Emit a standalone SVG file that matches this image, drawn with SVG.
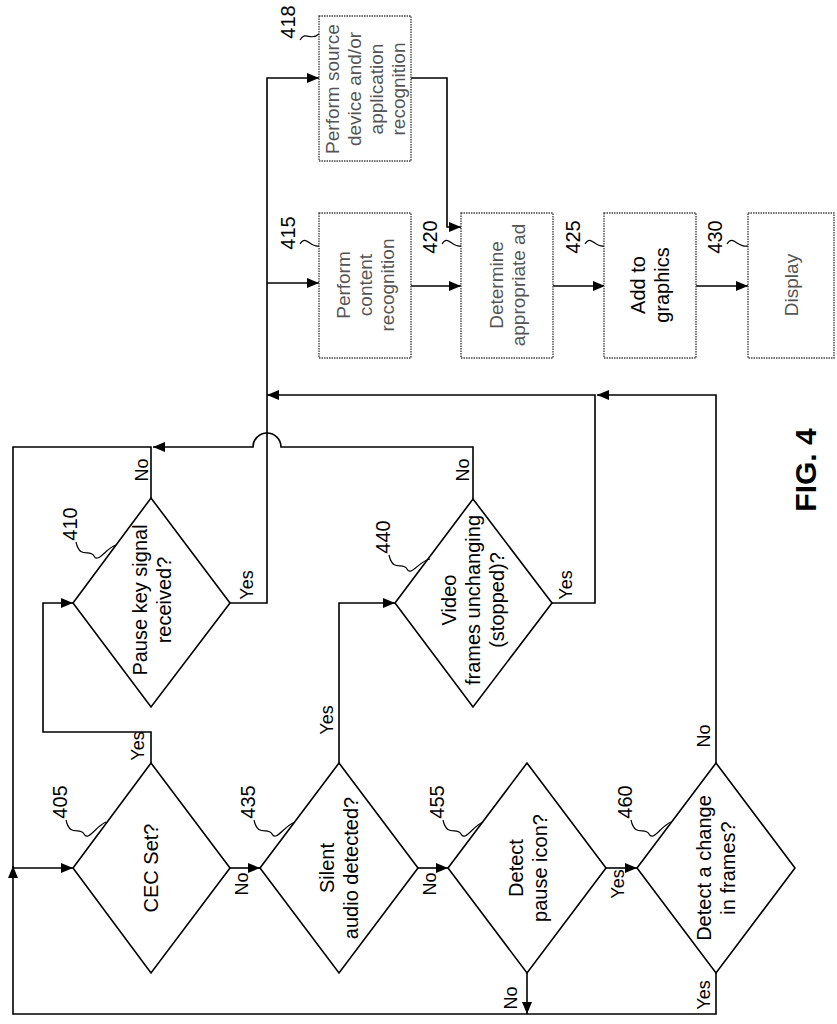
<svg xmlns="http://www.w3.org/2000/svg" width="837" height="1024" viewBox="0 0 837 1024">
<style>
text{font-family:"Liberation Sans",Arial,sans-serif;dominant-baseline:central;text-anchor:middle}
.t{font-size:20px;fill:#000}
.b{font-size:19px;fill:#555}
.bk{font-size:20px;fill:#000}
.n{font-size:20px}
.yn{font-size:18px}
.d{fill:#fff;stroke:#000;stroke-width:1.6}
.r{fill:#fff;stroke:#444;stroke-width:1.4;stroke-dasharray:1.5 1}
.c{fill:none;stroke:#000;stroke-width:1.6}
.l{fill:none;stroke:#000;stroke-width:1.2}
</style>
<defs>
<marker id="a" markerUnits="userSpaceOnUse" markerWidth="12" markerHeight="10" refX="12" refY="5" orient="auto"><path d="M0,0L12,5L0,10z" fill="#000"/></marker>
</defs>
<rect width="837" height="1024" fill="#fff"/>
<g id="connectors">
<path class="c" d="M473,499V447H281A14,14 0 0 0 253,447H153" marker-end="url(#a)"/>
<path class="c" d="M151,498V447H13V868H73" marker-end="url(#a)"/>
<path class="c" d="M716,973V1014H13V866" marker-end="url(#a)"/>
<path class="c" d="M527,973V1014" marker-end="url(#a)"/>
<path class="c" d="M151,763V732H43V603H73" marker-end="url(#a)"/>
<path class="c" d="M230,868H260" marker-end="url(#a)"/>
<path class="c" d="M418,868H448" marker-end="url(#a)"/>
<path class="c" d="M606,868H637" marker-end="url(#a)"/>
<path class="c" d="M339,763V603H395" marker-end="url(#a)"/>
<path class="c" d="M230,603H267V78H319" marker-end="url(#a)"/>
<path class="c" d="M267,283H319" marker-end="url(#a)"/>
<path class="c" d="M716,763V395H597" marker-end="url(#a)"/>
<path class="c" d="M552,603H595V395H267" marker-end="url(#a)"/>
<path class="c" d="M411,78H447V227H461" marker-end="url(#a)"/>
<path class="c" d="M411,286H461" marker-end="url(#a)"/>
<path class="c" d="M553,286H605" marker-end="url(#a)"/>
<path class="c" d="M696,286H748" marker-end="url(#a)"/>
<g class="yn">
<text transform="rotate(-90 138 746)" x="138" y="746">Yes</text>
<text transform="rotate(-90 242 884)" x="242" y="884">No</text>
<text transform="rotate(-90 142 470)" x="142" y="470">No</text>
<text transform="rotate(-90 247 585)" x="247" y="585">Yes</text>
<text transform="rotate(-90 327 720)" x="327" y="720">Yes</text>
<text transform="rotate(-90 430 884)" x="430" y="884">No</text>
<text transform="rotate(-90 463 470)" x="463" y="470">No</text>
<text transform="rotate(-90 566 585)" x="566" y="585">Yes</text>
<text transform="rotate(-90 618 884)" x="618" y="884">Yes</text>
<text transform="rotate(-90 511 998)" x="511" y="998">No</text>
<text transform="rotate(-90 704 736)" x="704" y="736">No</text>
<text transform="rotate(-90 704 995)" x="704" y="995">Yes</text>
</g>
</g>
<g id="n405">
<path class="d" d="M73,868L151,763L230,868L151,973z"/>
<text class="t" transform="rotate(-90 151 868)" x="151" y="868">CEC Set?</text>
<text class="n" transform="rotate(-90 60 802)" x="60" y="802">405</text>
<path class="l" d="M66,820C70,838 80,826 84,834S96,826 106,822"/>
</g>
<g id="n410">
<path class="d" d="M73,603L151,498L230,603L151,707z"/>
<text class="t" transform="rotate(-90 140 600)" x="140" y="600">Pause key signal</text>
<text class="t" transform="rotate(-90 164 600)" x="164" y="600">received?</text>
<text class="n" transform="rotate(-90 70 524)" x="70" y="524">410</text>
<path class="l" d="M76,542C80,560 90,548 94,556S106,548 116,545"/>
</g>
<g id="n435">
<path class="d" d="M260,868L339,763L418,868L339,973z"/>
<text class="t" transform="rotate(-90 327 868)" x="327" y="868">Silent</text>
<text class="t" transform="rotate(-90 351 868)" x="351" y="868">audio detected?</text>
<text class="n" transform="rotate(-90 248 802)" x="248" y="802">435</text>
<path class="l" d="M254,820C258,838 268,826 272,834S284,826 295,822"/>
</g>
<g id="n440">
<path class="d" d="M395,603L473,499L552,603L473,707z"/>
<text class="t" transform="rotate(-90 449 600)" x="449" y="600">Video</text>
<text class="t" transform="rotate(-90 473 600)" x="473" y="600">frames unchanging</text>
<text class="t" transform="rotate(-90 497 600)" x="497" y="600">(stopped)?</text>
<text class="n" transform="rotate(-90 383 537)" x="383" y="537">440</text>
<path class="l" d="M389,555C393,573 403,561 407,569S419,561 430,559"/>
</g>
<g id="n455">
<path class="d" d="M448,868L527,763L606,868L527,973z"/>
<text class="t" transform="rotate(-90 516 868)" x="516" y="868">Detect</text>
<text class="t" transform="rotate(-90 540 868)" x="540" y="868">pause icon?</text>
<text class="n" transform="rotate(-90 437 802)" x="437" y="802">455</text>
<path class="l" d="M443,820C447,838 457,826 461,834S473,826 483,822"/>
</g>
<g id="n460">
<path class="d" d="M637,868L716,763L795,868L716,973z"/>
<text class="t" transform="rotate(-90 704 868)" x="704" y="868">Detect a change</text>
<text class="t" transform="rotate(-90 728 868)" x="728" y="868">in frames?</text>
<text class="n" transform="rotate(-90 625 802)" x="625" y="802">460</text>
<path class="l" d="M631,820C635,838 645,826 649,834S661,826 671,822"/>
</g>
<g id="n418">
<rect class="r" x="319" y="16" width="92" height="145"/>
<text class="b" transform="rotate(-90 332 89)" x="332" y="89">Perform source</text>
<text class="b" transform="rotate(-90 354 89)" x="354" y="89">device and/or</text>
<text class="b" transform="rotate(-90 376 89)" x="376" y="89">application</text>
<text class="b" transform="rotate(-90 398 89)" x="398" y="89">recognition</text>
<text class="n" transform="rotate(-90 288 22)" x="288" y="22">418</text>
<path class="l" d="M300,40C306,30 310,42 319,34"/>
</g>
<g id="n415">
<rect class="r" x="319" y="213" width="92" height="145"/>
<text class="b" transform="rotate(-90 343 285)" x="343" y="285">Perform</text>
<text class="b" transform="rotate(-90 365 285)" x="365" y="285">content</text>
<text class="b" transform="rotate(-90 387 285)" x="387" y="285">recognition</text>
<text class="n" transform="rotate(-90 288 233)" x="288" y="233">415</text>
<path class="l" d="M300,244C306,234 310,248 319,246"/>
</g>
<g id="n420">
<rect class="r" x="461" y="213" width="92" height="145"/>
<text class="b" transform="rotate(-90 496 285)" x="496" y="285">Determine</text>
<text class="b" transform="rotate(-90 518 285)" x="518" y="285">appropriate ad</text>
<text class="n" transform="rotate(-90 430 237)" x="430" y="237">420</text>
<path class="l" d="M442,244C448,234 452,248 461,246"/>
</g>
<g id="n425">
<rect class="r" x="604" y="213" width="92" height="145"/>
<text class="bk" transform="rotate(-90 638 285)" x="638" y="285">Add to</text>
<text class="bk" transform="rotate(-90 662 285)" x="662" y="285">graphics</text>
<text class="n" transform="rotate(-90 573 237)" x="573" y="237">425</text>
<path class="l" d="M585,244C591,234 595,248 604,246"/>
</g>
<g id="n430">
<rect class="r" x="748" y="213" width="86" height="145"/>
<text class="b" transform="rotate(-90 791 285)" x="791" y="285">Display</text>
<text class="n" transform="rotate(-90 715 237)" x="715" y="237">430</text>
<path class="l" d="M727,244C733,234 737,248 748,246"/>
</g>
<text transform="rotate(-90 805 470)" x="805" y="470" style="font-size:30px;font-weight:bold">FIG. 4</text>
</svg>
